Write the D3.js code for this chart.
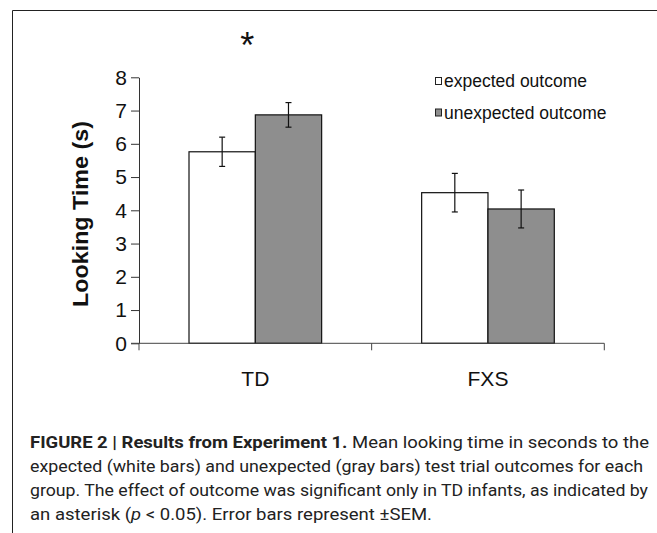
<!DOCTYPE html>
<html>
<head>
<meta charset="utf-8">
<script src="https://cdn.jsdelivr.net/npm/d3@7"></script>
<style>
  body { margin: 0; background: #fff; }
  svg { display: block; }
</style>
</head>
<body>
<div id="chart"></div>
<script>
// data
var groups = ["TD", "FXS"];
var series = ["expected outcome", "unexpected outcome"];
var expectedMean = [5.76, 4.53];
var expectedSem = [0.44, 0.58];
var unexpectedMean = [6.87, 4.04];
var unexpectedSem = [0.37, 0.57];
var yTicks = [0, 1, 2, 3, 4, 5, 6, 7, 8];

var captionLines = [
  [["FIGURE 2 | Results from Experiment 1.", "bold"], [" Mean looking time in seconds to the", "normal"]],
  [["expected (white bars) and unexpected (gray bars) test trial outcomes for each", "normal"]],
  [["group. The effect of outcome was significant only in TD infants, as indicated by", "normal"]],
  [["an asterisk (", "normal"], ["p", "italic"], [" < 0.05). Error bars represent \u00b1SEM.", "normal"]]
];
var captionWidths = [619, 613, 618, 402];

var W = 657, H = 533;
var svg = d3.select("#chart").append("svg")
  .attr("width", W).attr("height", H);

// frame around the figure (open to the right and bottom)
svg.append("path")
  .attr("d", "M12.5," + H + "V10.5H" + W)
  .attr("fill", "none").attr("stroke", "#222").attr("stroke-width", 1);

var x0 = d3.scaleBand().domain(groups).range([139, 604.3]);
var x1 = d3.scaleBand().domain(series).range([0, x0.bandwidth()]).paddingOuter(0.754);
var y = d3.scaleLinear().domain([0, 8]).range([343.3, 77.3]);

var rows = [];
groups.forEach(function(g, i) {
  rows.push({ g: g, s: series[0], v: expectedMean[i], e: expectedSem[i], fill: "#ffffff" });
  rows.push({ g: g, s: series[1], v: unexpectedMean[i], e: unexpectedSem[i], fill: "#8e8e8e" });
});

// bars
svg.selectAll("rect.bar")
  .data(rows)
  .enter()
  .append("rect")
  .attr("class", "bar")
  .attr("x", function(d) { return x0(d.g) + x1(d.s); })
  .attr("y", function(d) { return y(d.v); })
  .attr("width", x1.bandwidth())
  .attr("height", function(d) { return y(0) - y(d.v); })
  .attr("fill", function(d) { return d.fill; })
  .attr("stroke", "#111")
  .attr("stroke-width", 1.2);

// error bars
var err = svg.selectAll("g.err").data(rows).enter().append("g")
  .attr("stroke", "#111").attr("stroke-width", 1.2);
err.append("line")
  .attr("x1", function(d) { return x0(d.g) + x1(d.s) + x1.bandwidth() / 2; })
  .attr("x2", function(d) { return x0(d.g) + x1(d.s) + x1.bandwidth() / 2; })
  .attr("y1", function(d) { return y(d.v + d.e); })
  .attr("y2", function(d) { return y(d.v - d.e); });
[1, -1].forEach(function(sign) {
  err.append("line")
    .attr("x1", function(d) { return x0(d.g) + x1(d.s) + x1.bandwidth() / 2 - 3; })
    .attr("x2", function(d) { return x0(d.g) + x1(d.s) + x1.bandwidth() / 2 + 3; })
    .attr("y1", function(d) { return y(d.v + sign * d.e); })
    .attr("y2", function(d) { return y(d.v + sign * d.e); });
});

// y axis
var yAxis = svg.append("g")
  .attr("transform", "translate(139,0)")
  .call(d3.axisLeft(y).tickValues(yTicks).tickSize(8).tickSizeOuter(0).tickPadding(4));
yAxis.select(".domain").attr("stroke", "#333");
yAxis.selectAll(".tick line").attr("stroke", "#333");
yAxis.selectAll(".tick text")
  .attr("font-family", "Liberation Sans, Arial, sans-serif")
  .attr("font-size", 21).attr("fill", "#111");

// x axis: ticks at the band edges
var xAxis = svg.append("g").attr("transform", "translate(0," + y(0) + ")");
xAxis.append("line")
  .attr("x1", 131).attr("x2", x0.range()[1])
  .attr("stroke", "#444");
var edges = [x0("TD"), x0("FXS"), x0("FXS") + x0.bandwidth()];
xAxis.selectAll("line.tk").data(edges).enter().append("line")
  .attr("x1", function(d) { return d; }).attr("x2", function(d) { return d; })
  .attr("y1", 0).attr("y2", 7).attr("stroke", "#444");
xAxis.selectAll("text").data(groups).enter().append("text")
  .attr("x", function(d) { return x0(d) + x0.bandwidth() / 2; })
  .attr("y", 43)
  .attr("text-anchor", "middle")
  .attr("font-family", "Liberation Sans, Arial, sans-serif")
  .attr("font-size", 21).attr("fill", "#111")
  .text(function(d) { return d; });

// y title
svg.append("text")
  .attr("transform", "translate(88,214) rotate(-90)")
  .attr("text-anchor", "middle")
  .attr("font-family", "Liberation Sans, Arial, sans-serif")
  .attr("font-weight", "bold").attr("font-size", 22).attr("fill", "#111")
  .attr("textLength", 186).attr("lengthAdjust", "spacingAndGlyphs")
  .text("Looking Time (s)");

// significance asterisk
svg.append("text")
  .attr("x", x0("TD") + x0.bandwidth() / 2 - 8)
  .attr("y", 58)
  .attr("text-anchor", "middle")
  .attr("font-family", "Liberation Sans, Arial, sans-serif")
  .attr("font-size", 36).attr("fill", "#111")
  .text("*");

// legend
var legend = svg.selectAll("g.legend").data(series).enter().append("g")
  .attr("transform", function(d, i) { return "translate(435," + (87 + i * 31.5) + ")"; });
legend.append("rect")
  .attr("x", 0.5).attr("y", -9.5).attr("width", 6).attr("height", 7)
  .attr("fill", function(d, i) { return i ? "#8e8e8e" : "#fff"; })
  .attr("stroke", "#222");
legend.append("text")
  .attr("x", 9).attr("y", 0)
  .attr("font-family", "Liberation Sans, Arial, sans-serif")
  .attr("font-size", 17.5).attr("fill", "#111")
  .text(function(d) { return d; });

// caption
captionLines.forEach(function(parts, i) {
  var t = svg.append("text")
    .attr("x", 30).attr("y", 448 + i * 24)
    .attr("font-family", "Roboto, Liberation Sans, sans-serif")
    .attr("font-size", 16).attr("fill", "#222")
    .attr("textLength", captionWidths[i])
    .attr("lengthAdjust", "spacingAndGlyphs");
  parts.forEach(function(p) {
    t.append("tspan")
      .attr("font-weight", p[1] === "bold" ? "bold" : "normal")
      .attr("font-style", p[1] === "italic" ? "italic" : "normal")
      .text(p[0]);
  });
});
</script>
</body>
</html>
